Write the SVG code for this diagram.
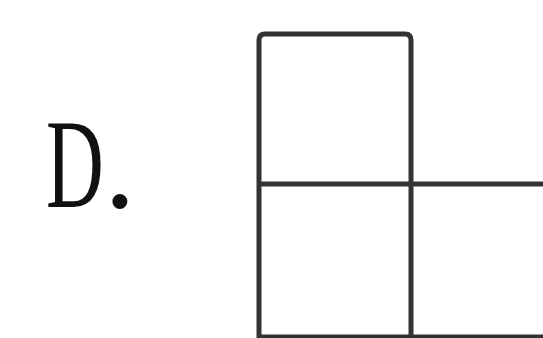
<svg xmlns="http://www.w3.org/2000/svg" width="543" height="338" viewBox="0 0 543 338">
<style>
.ln{fill:none;stroke:#333;stroke-width:5;stroke-linejoin:round}
.lbl{font-family:"Liberation Serif","DejaVu Serif",serif;font-size:127px;fill:#111}
</style>
<rect width="543" height="338" fill="#fff"/>
<g id="label">
<text class="lbl" transform="translate(46,207) scale(0.63,1)" x="0" y="0">D</text>
<text class="lbl" x="104" y="207">.</text>
</g>
<g id="grid">
<path class="ln" d="M259,340 V40 Q259,34 265,34 H405 Q411,34 411,40 V340"/>
<path class="ln" d="M259,184 H545"/>
<path class="ln" d="M259,337 H545"/>
</g>
</svg>
